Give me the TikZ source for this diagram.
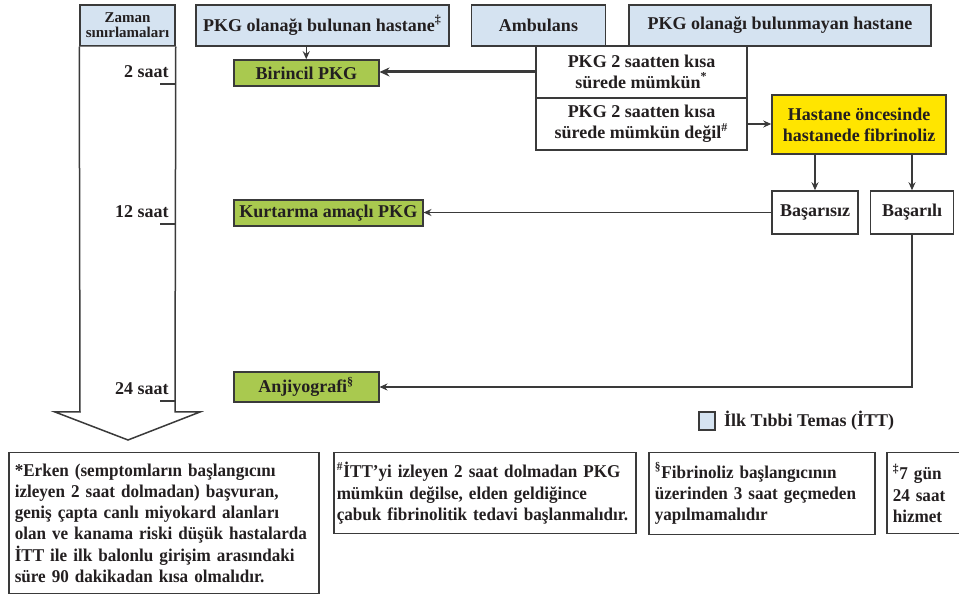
\documentclass[tikz,border=0pt]{standalone}
\usepackage{fontspec}
\setmainfont{Liberation Serif}
\newfontfamily\notefont{Liberation Serif}[FakeStretch=0.95]
\usepackage{xcolor}
\definecolor{ittblue}{HTML}{D5E3F1}
\definecolor{pkggreen}{HTML}{A9C94F}
\definecolor{fibyellow}{HTML}{FFE500}
\definecolor{lineg}{HTML}{3A3A3A}
\definecolor{textk}{HTML}{231F20}
\usepackage{tikz}
\usetikzlibrary{arrows.meta, positioning}
\tikzset{
  kbase/.style ={rectangle, draw=lineg, line width=0.75pt, text=textk, align=center, inner sep=2pt,
                 font=\fontsize{9}{10.5}\selectfont\bfseries},
  kboxb/.style ={kbase, fill=ittblue, minimum height=20.5pt},
  kboxg/.style ={kbase, fill=pkggreen, minimum height=13pt},
  kboxw/.style ={kbase, fill=white},
  kboxy/.style ={kbase, fill=fibyellow},
  knote/.style ={kbase, align=left, inner xsep=3pt, inner ysep=3pt, anchor=north west,
                 font=\fontsize{9}{10.6}\notefont\bfseries},
  karr/.style  ={-{Stealth[length=4pt, width=3.5pt]}, line width=0.7pt, color=lineg},
  karrb/.style ={-{Stealth[length=5pt, width=4.5pt]}, line width=1.5pt, color=lineg},
  klbl/.style  ={font=\fontsize{9}{10.5}\selectfont\bfseries, text=textk, inner sep=0pt},
}

\begin{document}
\begin{tikzpicture}[x=0.5pt, y=-0.5pt]
  \useasboundingbox (0,0) rectangle (959,597);
  \node[kboxb, minimum width=47.5pt, font=\fontsize{7.5}{7.5}\selectfont\bfseries] (zaman) at (127.5,25.5) {Zaman\\sınırlamaları};
  \draw[draw=lineg, line width=0.75pt, fill=white] (zaman.south west) -- (80,412) -- (55,412) -- (128,440)
    -- (200,412) -- (175,412) -- (zaman.south east);
  \foreach \y/\t in {84/2 saat, 224/12 saat, 401/24 saat} {
    \draw[lineg, line width=0.75pt] (160,\y) -- (175,\y);
    \node[klbl, anchor=base east] (saat\y) at (169,\y-6) {\t};
  }

  \node[kboxb, minimum width=126.5pt] (varhast) at (322.5,25.5) {PKG olanağı bulunan hastane\textsuperscript{‡}};
  \node[kboxb, minimum width=67pt, right=10.5pt of varhast] (ambulans) {Ambulans};
  \node[kboxb, minimum width=151pt, right=11pt of ambulans] (yokhast) {PKG olanağı bulunmayan hastane};

  \node[kboxw, minimum width=105.5pt, minimum height=26pt] (mumkun) at (641.5,72) {PKG 2 saatten kısa\\sürede mümkün\textsuperscript{*}};
  \node[kboxw, minimum width=105.5pt, minimum height=26pt, below=-0.75pt of mumkun] (degil) {PKG 2 saatten kısa\\sürede mümkün değil\textsuperscript{\#}};
  \node[kboxy, minimum width=87pt, minimum height=29.5pt] (fibrinoliz) at (859,124.5) {Hastane öncesinde\\hastanede fibrinoliz};
  \node[kboxw, minimum width=43pt, minimum height=21.5pt] (basarisiz) at (815,212.5) {Başarısız};
  \node[kboxw, minimum width=41.5pt, minimum height=21.5pt, right=5.5pt of basarisiz] (basarili) {Başarılı};

  \node[kboxg, minimum width=72.5pt, anchor=west] (birincil) at (233,73) {Birincil PKG};
  \node[kboxg, minimum width=94.5pt, anchor=west] (kurtarma) at (233,213) {Kurtarma amaçlı PKG};
  \node[kboxg, minimum width=72.5pt, minimum height=15pt, anchor=west] (anjio) at (233,387) {Anjiyografi\textsuperscript{§}};

  \draw[karr] (birincil.north |- varhast.south) -- (birincil.north);
  \draw[karrb] (mumkun.west) -- (mumkun.west -| birincil.east);
  \draw[karr] (degil.east) -- (degil.east -| fibrinoliz.west);
  \draw[karr] (basarisiz.north |- fibrinoliz.south) -- (basarisiz.north);
  \draw[karr] (basarili.north |- fibrinoliz.south) -- (basarili.north);
  \draw[karr] (basarisiz.west) -- (basarisiz.west -| kurtarma.east);
  \draw[karr] (basarili.south) |- (anjio.east);

  \node[kboxb, minimum width=8pt, minimum height=9pt, inner sep=0pt] (lejkare) at (707,421) {};
  \node[klbl, right=4pt of lejkare] (lejyazi) {İlk Tıbbi Temas (İTT)};

  \node[knote, text width=149pt, minimum height=70.5pt] (not1) at (8,452) {*Erken (semptomların başlangıcını\\izleyen 2 saat dolmadan) başvuran,\\geniş çapta canlı miyokard alanları\\olan ve kanama riski düşük hastalarda\\İTT ile ilk balonlu girişim arasındaki\\süre 90 dakikadan kısa olmalıdır.};
  \node[knote, inner xsep=1.5pt, text width=148pt, minimum height=40.5pt] (not2) at (333,452) {\textsuperscript{\#}İTT’yi izleyen 2 saat dolmadan PKG\\mümkün değilse, elden geldiğince\\çabuk fibrinolitik tedavi başlanmalıdır.};
  \node[knote, text width=107pt, minimum height=41pt] (not3) at (648,452) {\textsuperscript{§}Fibrinoliz başlangıcının\\üzerinden 3 saat geçmeden\\yapılmamalıdır};
  \node[knote, text width=40pt, minimum height=40.5pt] (not4) at (886,452) {\textsuperscript{‡}7 gün\\24 saat\\hizmet};
\end{tikzpicture}
\end{document}
